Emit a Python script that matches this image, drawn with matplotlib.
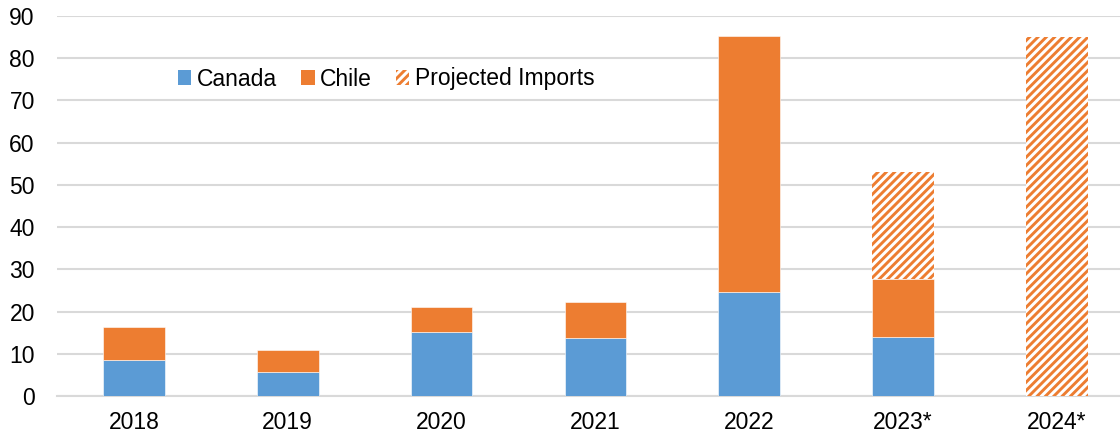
import matplotlib
matplotlib.use("Agg")
import matplotlib.pyplot as plt
from matplotlib.patches import Patch

years = ["2018", "2019", "2020", "2021", "2022", "2023*", "2024*"]
canada = [8.6, 5.8, 15.2, 13.8, 24.7, 14.0, 0.0]
chile = [7.8, 5.1, 5.9, 8.4, 60.6, 13.6, 0.0]
projected = [0.0, 0.0, 0.0, 0.0, 0.0, 25.4, 85.0]
y_ticks = [0, 10, 20, 30, 40, 50, 60, 70, 80, 90]

BLUE = "#5B9BD5"
ORANGE = "#ED7D31"
GRID = "#D9D9D9"
FS = 16.5
HATCH = "////"

plt.rcParams["font.family"] = ["Liberation Sans", "DejaVu Sans"]
plt.rcParams["hatch.linewidth"] = 2.1
plt.rcParams["hatch.color"] = ORANGE

fig = plt.figure(figsize=(11.2, 4.36), dpi=100)
ax = fig.add_axes([57 / 1120, 40 / 436, 1 - 57 / 1120, 380 / 436])

x = list(range(len(years)))
width = 0.40
ax.bar(x, canada, width, color=BLUE, edgecolor="white", linewidth=0.4, zorder=3)
ax.bar(x, chile, width, bottom=canada, color=ORANGE, edgecolor="white",
       linewidth=0.4, zorder=3)
base = [a + b for a, b in zip(canada, chile)]
ax.bar(x, projected, width, bottom=base, color="white", edgecolor=ORANGE,
       hatch=HATCH, linewidth=0, zorder=3)

ax.set_ylim(0, 90)
ax.set_xlim(-0.5, 6.41)
ax.set_yticks(y_ticks)
ax.set_xticks(x)
ax.set_xticklabels(years)
ax.tick_params(axis="both", length=0, labelsize=FS, colors="black")
ax.tick_params(axis="y", pad=16)
ax.tick_params(axis="x", pad=11)
ax.yaxis.grid(True, color=GRID, linewidth=1.5, zorder=0)
ax.set_axisbelow(True)
for side in ["top", "right", "left"]:
    ax.spines[side].set_visible(False)
ax.spines["bottom"].set_color(GRID)
ax.spines["bottom"].set_linewidth(1.5)

handles = [
    Patch(facecolor=BLUE, edgecolor="none", label="Canada"),
    Patch(facecolor=ORANGE, edgecolor="none", label="Chile"),
    Patch(facecolor="white", edgecolor=ORANGE, hatch=HATCH, linewidth=0,
          label="Projected Imports"),
]
fig.legend(handles=handles, loc="center left",
           bbox_to_anchor=(178 / 1120, 1 - 79 / 436), ncol=3, frameon=False,
           fontsize=FS, handlelength=0.58, handleheight=0.58,
           handletextpad=0.25, columnspacing=1.05, borderpad=0,
           borderaxespad=0)

fig.savefig("out.png", dpi=100)
